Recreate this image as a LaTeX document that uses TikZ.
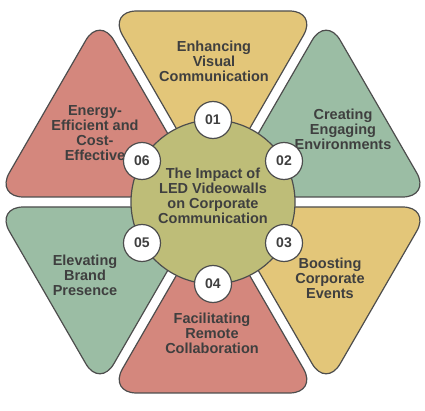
\documentclass[tikz,border=0pt]{standalone}
\usepackage{fontspec}
\setmainfont{Liberation Sans}
\usetikzlibrary{calc}
\definecolor{yel}{HTML}{E3C679}
\definecolor{grn}{HTML}{9BBDA4}
\definecolor{sal}{HTML}{D4877D}
\definecolor{oli}{HTML}{BEBD78}
\definecolor{edge}{HTML}{4D4D4D}
\definecolor{txt}{HTML}{3F3F3F}
\tikzset{
  petal/.style={draw=edge, line width=1.2bp, rounded corners=28bp},
  lbl/.style={text=txt, font=\fontsize{14.5bp}{15bp}\selectfont\bfseries, align=center, inner sep=0pt},
  badge/.style={circle, draw=edge, fill=white, line width=1.2bp, minimum size=37bp, inner sep=0pt, text=txt, font=\fontsize{14bp}{14bp}\selectfont\bfseries},
  hub/.style={circle, draw=edge, fill=oli, line width=1.2bp, minimum size=164bp, inner sep=0pt}
}
\begin{document}
\begin{tikzpicture}[x=1bp,y=1bp]
\useasboundingbox (0,0) rectangle (425,411);
\fill[white] (0,0) rectangle (425,411);
\coordinate (C) at (213,209);
\foreach \m/\col in {90/yel,30/grn,-30/yel,-90/sal,210/grn,150/sal} {
  \draw[petal, fill=\col] ($(C)+(\m:10)$) -- ++(\m-30:209) -- ++(\m+90:209) -- cycle;
}
\node[hub] (hub) at (C) {};
\node[lbl] (hubtxt) at (213,215) {The Impact of\\LED Videowalls\\on Corporate\\Communication};
\node[lbl] (t1) at (214,350) {Enhancing\\Visual\\Communication};
\node[lbl] (t2) at (343,282) {Creating\\Engaging\\Environments};
\node[lbl] (t3) at (330,133) {Boosting\\Corporate\\Events};
\node[lbl] (t4) at (212,78) {Facilitating\\Remote\\Collaboration};
\node[lbl] (t5) at (85,136) {Elevating\\Brand\\Presence};
\node[lbl] (t6) at (95,278) {Energy-\\Efficient and\\Cost-\\Effective};
\node[badge] (b1) at ($(C)+(90:82)$) {01};
\node[badge] (b2) at ($(C)+(30:82)$) {02};
\node[badge] (b3) at ($(C)+(-30:82)$) {03};
\node[badge] (b4) at ($(C)+(-90:82)$) {04};
\node[badge] (b5) at ($(C)+(210:82)$) {05};
\node[badge] (b6) at ($(C)+(150:82)$) {06};
\end{tikzpicture}
\end{document}
